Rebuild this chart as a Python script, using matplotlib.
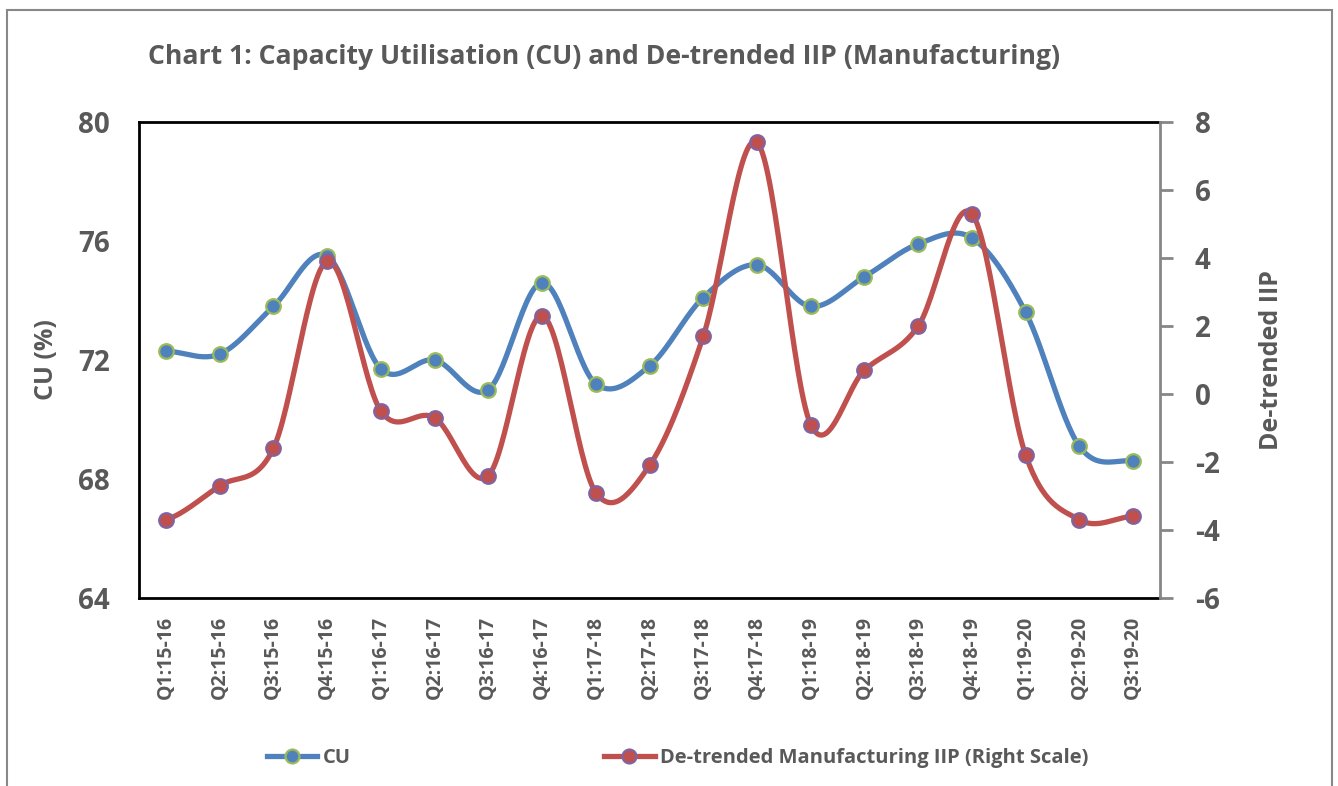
import numpy as np
import matplotlib.pyplot as plt
from matplotlib.patches import Rectangle
from matplotlib.lines import Line2D

# Datos
trimestres = ["Q1:15-16", "Q2:15-16", "Q3:15-16", "Q4:15-16",
              "Q1:16-17", "Q2:16-17", "Q3:16-17", "Q4:16-17",
              "Q1:17-18", "Q2:17-18", "Q3:17-18", "Q4:17-18",
              "Q1:18-19", "Q2:18-19", "Q3:18-19", "Q4:18-19",
              "Q1:19-20", "Q2:19-20", "Q3:19-20"]
cu = [72.3, 72.2, 73.8, 75.5, 71.7, 72.0, 71.0, 74.6, 71.2, 71.8,
      74.1, 75.2, 73.8, 74.8, 75.9, 76.1, 73.6, 69.1, 68.6]
iip = [-3.7, -2.7, -1.6, 3.9, -0.5, -0.7, -2.4, 2.3, -2.9, -2.1,
       1.7, 7.4, -0.9, 0.7, 2.0, 5.3, -1.8, -3.7, -3.6]

gris = "#595959"
plt.rcParams['font.family'] = ['Open Sans', 'DejaVu Sans']
plt.rcParams['font.weight'] = 'bold'
plt.rcParams['axes.unicode_minus'] = False


# Curva suavizada tipo Excel (Catmull-Rom)
def suavizar(y, n=30):
    y = np.asarray(y, dtype=float)
    p = np.concatenate([[y[0]], y, [y[-1]]])
    xs, ys = [], []
    for i in range(len(y) - 1):
        m0 = (p[i + 2] - p[i]) / 2
        m1 = (p[i + 3] - p[i + 1]) / 2
        t = np.linspace(0, 1, n, endpoint=False)
        h00 = 2 * t**3 - 3 * t**2 + 1
        h10 = t**3 - 2 * t**2 + t
        h01 = -2 * t**3 + 3 * t**2
        h11 = t**3 - t**2
        xs.append(i + t)
        ys.append(h00 * y[i] + h10 * m0 + h01 * y[i + 1] + h11 * m1)
    xs.append([len(y) - 1])
    ys.append([y[-1]])
    return np.concatenate(xs), np.concatenate(ys)


x = np.arange(len(trimestres))

fig = plt.figure(figsize=(13.38, 7.86), dpi=100)
fig.patches.append(Rectangle((7 / 1338, -0.1), 1325 / 1338, 1.1 - 10 / 786,
                             transform=fig.transFigure, fill=False,
                             edgecolor="#888888", linewidth=1.5))
ax = fig.add_axes([0.1039, 0.2392, 0.7631, 0.6056])
ax2 = ax.twinx()

# Serie CU
xs, ys = suavizar(cu)
ax.plot(xs, ys, color="#4F81BD", linewidth=3.8, solid_capstyle='round', zorder=2)
ax.plot(x, cu, linestyle='none', marker='o', markersize=10.5,
        markerfacecolor="#4F81BD", markeredgecolor="#9BBB59",
        markeredgewidth=1.6, zorder=3)

# Serie IIP
xs2, ys2 = suavizar(iip)
ax2.plot(xs2, ys2, color="#C0504D", linewidth=3.8, solid_capstyle='round', zorder=2)
ax2.plot(x, iip, linestyle='none', marker='o', markersize=10.5,
         markerfacecolor="#C0504D", markeredgecolor="#8064A2",
         markeredgewidth=1.6, zorder=3)

ax.set_xlim(-0.5, len(trimestres) - 0.5)
ax.set_ylim(64, 80)
ax.set_yticks([64, 68, 72, 76, 80])
ax2.set_ylim(-6, 8)
ax2.set_yticks(range(-6, 9, 2))

ax.set_xticks(x)
ax.set_xticklabels(trimestres, rotation=90, fontsize=14, color=gris,
                   fontweight='bold')
ax.tick_params(axis='x', length=0, pad=13)
ax.tick_params(axis='y', length=0, pad=21, labelsize=20, labelcolor=gris)
ax2.tick_params(axis='y', length=9, width=2, color="#868686", direction='out',
                pad=16, labelsize=20, labelcolor=gris)

for s in ['left', 'top', 'bottom']:
    ax.spines[s].set_linewidth(2)
    ax.spines[s].set_color('black')
    ax2.spines[s].set_visible(False)
ax.spines['right'].set_visible(False)
ax2.spines['right'].set_color("#868686")
ax2.spines['right'].set_linewidth(2)

ax.set_ylabel("CU (%)", fontsize=18, color=gris, fontweight='bold', labelpad=14)
ax2.set_ylabel("De-trended IIP", fontsize=18, color=gris, fontweight='bold',
               labelpad=28)

fig.text(604 / 1338, 1 - 57 / 786,
         "Chart 1: Capacity Utilisation (CU) and De-trended IIP (Manufacturing)",
         ha='center', va='center', fontsize=19.2, color=gris, fontweight='bold')

# Leyenda
h1 = Line2D([], [], color="#4F81BD", linewidth=3.8, marker='o', markersize=10,
            markerfacecolor="#4F81BD", markeredgecolor="#9BBB59", markeredgewidth=1.6)
h2 = Line2D([], [], color="#C0504D", linewidth=3.8, marker='o', markersize=10,
            markerfacecolor="#C0504D", markeredgecolor="#8064A2", markeredgewidth=1.6)
leg = fig.legend([h1, h2], ["CU", "De-trended Manufacturing IIP (Right Scale)"],
                 loc='center left', bbox_to_anchor=(257 / 1338, 1 - 758 / 786),
                 ncol=2, frameon=False, borderpad=0, handlelength=2.5,
                 handletextpad=0.25, columnspacing=12.6,
                 prop={'size': 14.5, 'weight': 'bold'})
for t in leg.get_texts():
    t.set_color(gris)

fig.savefig("out.png", dpi=100)
